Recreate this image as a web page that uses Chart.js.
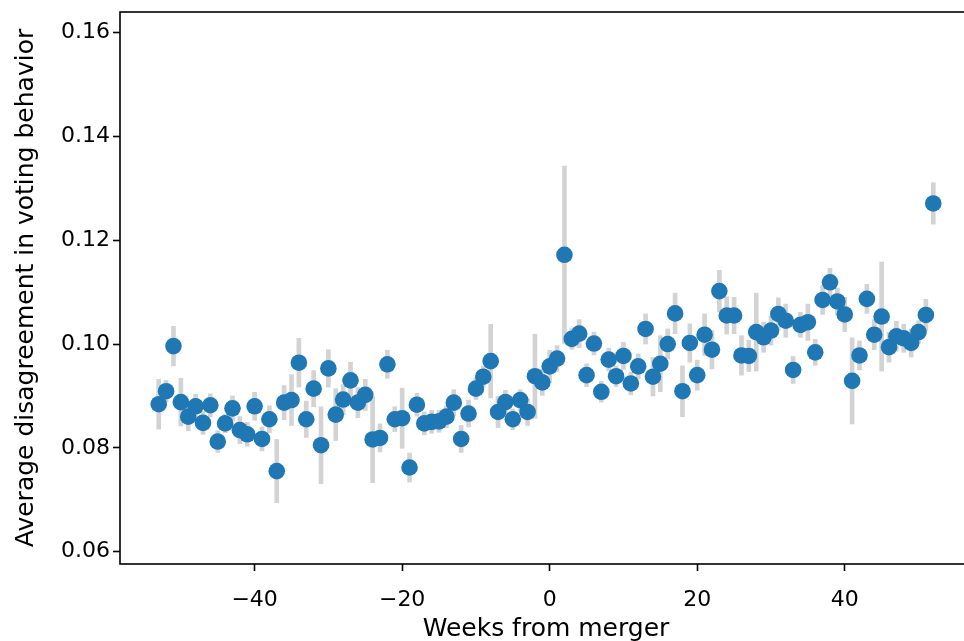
<!DOCTYPE html>
<html>
<head>
<meta charset="utf-8">
<script src="https://cdn.jsdelivr.net/npm/chart.js@4.4.1/dist/chart.umd.min.js"></script>
<style>
  html, body { margin: 0; padding: 0; background: #fff; overflow: hidden; }
</style>
</head>
<body>
<canvas id="chart" width="990" height="660"></canvas>
<script>
// semaines par rapport à la fusion
const weeks = [-53,-52,-51,-50,-49,-48,-47,-46,-45,-44,-43,-42,-41,-40,-39,-38,-37,-36,-35,-34,
  -33,-32,-31,-30,-29,-28,-27,-26,-25,-24,-23,-22,-21,-20,-19,-18,-17,-16,-15,-14,
  -13,-12,-11,-10,-9,-8,-7,-6,-5,-4,-3,-2,-1,0,1,2,3,4,5,6,
  7,8,9,10,11,12,13,14,15,16,17,18,19,20,21,22,23,24,25,26,
  27,28,29,30,31,32,33,34,35,36,37,38,39,40,41,42,43,44,45,46,
  47,48,49,50,51,52];

// désaccord moyen
const disagreement = [
  0.0884, 0.0909, 0.0996, 0.0888, 0.0860, 0.0880, 0.0848, 0.0882, 0.0812, 0.0847,
  0.0876, 0.0834, 0.0826, 0.0880, 0.0817, 0.0855, 0.0755, 0.0887, 0.0892, 0.0964,
  0.0855, 0.0914, 0.0805, 0.0953, 0.0864, 0.0893, 0.0930, 0.0887, 0.0902, 0.0816,
  0.0819, 0.0961, 0.0855, 0.0857, 0.0762, 0.0883, 0.0847, 0.0850, 0.0851, 0.0860,
  0.0887, 0.0817, 0.0866, 0.0914, 0.0937, 0.0967, 0.0869, 0.0888, 0.0855, 0.0892,
  0.0869, 0.0938, 0.0926, 0.0957, 0.0972, 0.1172, 0.1010, 0.1020, 0.0940, 0.1001,
  0.0908, 0.0970, 0.0938, 0.0977, 0.0924, 0.0957, 0.1029, 0.0937, 0.0962, 0.1000,
  0.1059, 0.0909, 0.1002, 0.0940, 0.1018, 0.0989, 0.1102, 0.1055, 0.1055, 0.0978,
  0.0977, 0.1023, 0.1013, 0.1026, 0.1058, 0.1045, 0.0950, 0.1037, 0.1042, 0.0984,
  0.1085, 0.1119, 0.1082, 0.1057, 0.0929, 0.0978, 0.1087, 0.1018, 0.1053, 0.0994,
  0.1015, 0.1011, 0.1002, 0.1023, 0.1056, 0.1271
];

// demi-largeur des barres d'erreur
const errHalf = [
  0.0048, 0.0021, 0.0038, 0.0046, 0.0027, 0.0023, 0.0022, 0.0022, 0.0021, 0.0018,
  0.0024, 0.0026, 0.0023, 0.0027, 0.0023, 0.0026, 0.0061, 0.0033, 0.0049, 0.0047,
  0.0035, 0.0035, 0.0074, 0.0036, 0.0050, 0.0029, 0.0035, 0.0029, 0.0030, 0.0083,
  0.0027, 0.0027, 0.0024, 0.0058, 0.0028, 0.0022, 0.0022, 0.0022, 0.0021, 0.0021,
  0.0025, 0.0026, 0.0026, 0.0021, 0.0020, 0.0071, 0.0030, 0.0023, 0.0020, 0.0020,
  0.0026, 0.0081, 0.0025, 0.0031, 0.0025, 0.0171, 0.0020, 0.0027, 0.0022, 0.0022,
  0.0020, 0.0022, 0.0020, 0.0026, 0.0022, 0.0024, 0.0029, 0.0037, 0.0054, 0.0029,
  0.0039, 0.0049, 0.0037, 0.0029, 0.0040, 0.0037, 0.0040, 0.0036, 0.0035, 0.0038,
  0.0030, 0.0075, 0.0029, 0.0028, 0.0031, 0.0032, 0.0026, 0.0024, 0.0035, 0.0025,
  0.0028, 0.0027, 0.0026, 0.0033, 0.0083, 0.0028, 0.0028, 0.0029, 0.0105, 0.0029,
  0.0029, 0.0027, 0.0027, 0.0022, 0.0030, 0.0040
];

const xTicks = [-40, -20, 0, 20, 40];
const yTicks = [0.06, 0.08, 0.10, 0.12, 0.14, 0.16];

const FONT = 'DejaVu Sans';

// cadre autour de la zone du graphique (les 4 côtés)
const frame = {
  id: 'frame',
  afterDraw(chart) {
    const { ctx, chartArea: a } = chart;
    ctx.save();
    ctx.strokeStyle = '#000';
    ctx.lineWidth = 1.6;
    ctx.strokeRect(a.left, a.top, a.right - a.left, a.bottom - a.top);
    ctx.restore();
  }
};

new Chart(document.getElementById('chart').getContext('2d'), {
  type: 'scatter',
  data: {
    datasets: [
      {
        type: 'bar',
        data: weeks.map((w, i) => ({ x: w, y: [disagreement[i] - errHalf[i], disagreement[i] + errHalf[i]] })),
        backgroundColor: '#d3d3d3',
        borderWidth: 0,
        barThickness: 4,
        order: 2
      },
      {
        data: weeks.map((w, i) => ({ x: w, y: disagreement[i] })),
        backgroundColor: '#1f77b4',
        pointRadius: 8.3,
        pointHoverRadius: 8.3,
        pointBorderWidth: 0,
        order: 1
      }
    ]
  },
  options: {
    responsive: false,
    animation: false,
    layout: { padding: { top: 12, right: 18, bottom: 0, left: 0 } },
    plugins: {
      legend: { display: false },
      tooltip: { enabled: false }
    },
    scales: {
      x: {
        type: 'linear',
        min: -58.25,
        max: 57.25,
        offset: false,
        afterBuildTicks: s => { s.ticks = xTicks.map(v => ({ value: v })); },
        afterFit: s => { s.height = 96; s.paddingLeft = 0; s.paddingRight = 0; },
        grid: { offset: false, drawOnChartArea: false, drawTicks: true, tickLength: 7, tickColor: '#000', tickWidth: 1.6 },
        border: { display: false },
        ticks: {
          color: '#000',
          padding: 16,
          maxRotation: 0,
          font: { family: FONT, size: 22 },
          callback: v => (v < 0 ? '\u2212' + Math.abs(v) : String(v))
        },
        title: {
          display: true,
          text: 'Weeks from merger',
          color: '#000',
          font: { family: FONT, size: 25 },
          padding: { top: 0, bottom: 16 }
        }
      },
      y: {
        min: 0.0576,
        max: 0.1640,
        afterBuildTicks: s => { s.ticks = yTicks.map(v => ({ value: v })); },
        afterFit: s => { s.width = 120; s.paddingTop = 0; s.paddingBottom = 0; },
        grid: { drawOnChartArea: false, drawTicks: true, tickLength: 7, tickColor: '#000', tickWidth: 1.6 },
        border: { display: false },
        ticks: {
          color: '#000',
          padding: 3,
          font: { family: FONT, size: 22 },
          callback: v => v.toFixed(2)
        },
        title: {
          display: true,
          text: 'Average disagreement in voting behavior',
          color: '#000',
          font: { family: FONT, size: 25 },
          padding: { top: 11, bottom: 0 }
        }
      }
    }
  },
  plugins: [frame]
});
</script>
</body>
</html>
